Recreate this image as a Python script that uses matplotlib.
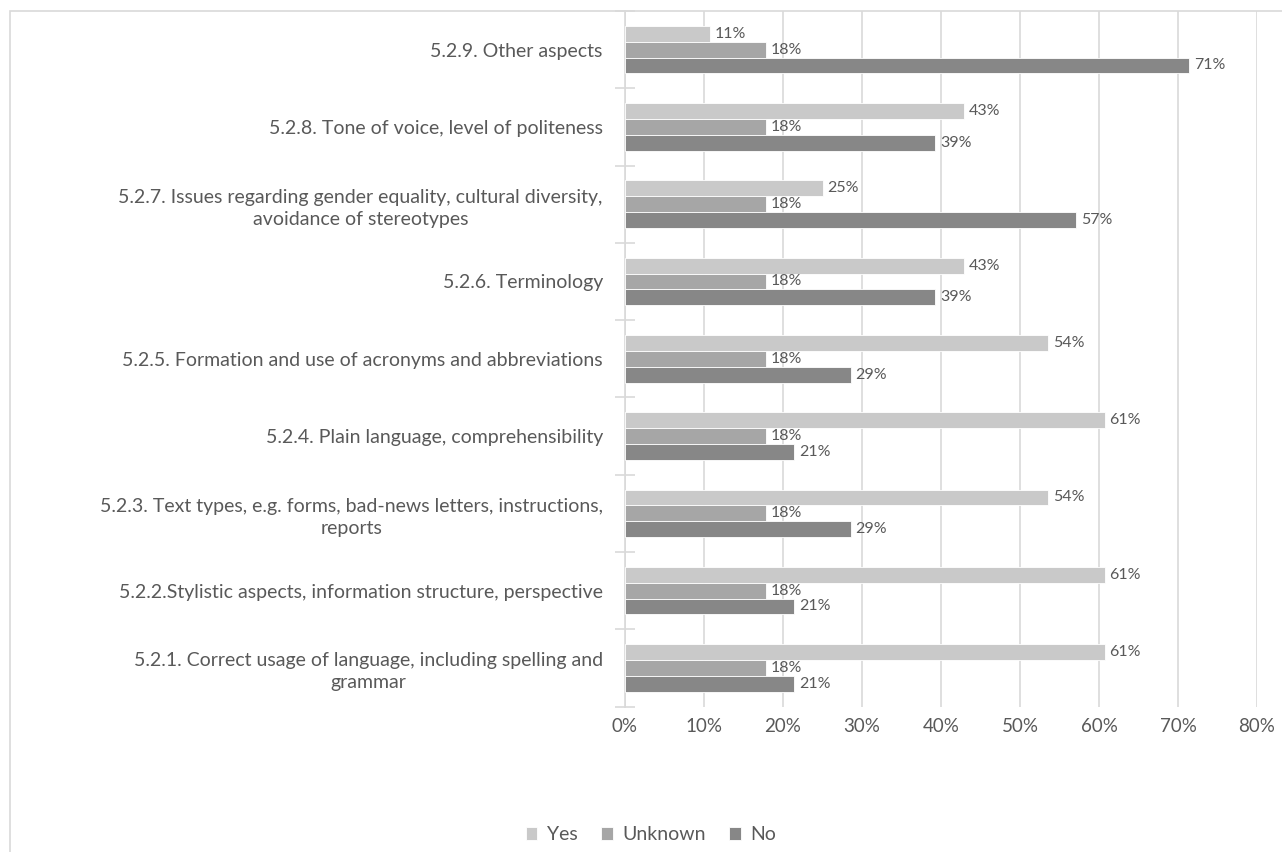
import matplotlib.pyplot as plt
import numpy as np
from matplotlib.patches import Rectangle

# Categories listed bottom to top
categories = [
    '5.2.1. Correct usage of language, including spelling and\ngrammar',
    '5.2.2.Stylistic aspects, information structure, perspective',
    '5.2.3. Text types, e.g. forms, bad-news letters, instructions,\nreports',
    '5.2.4. Plain language, comprehensibility',
    '5.2.5. Formation and use of acronyms and abbreviations',
    '5.2.6. Terminology',
    '5.2.7. Issues regarding gender equality, cultural diversity,\navoidance of stereotypes',
    '5.2.8. Tone of voice, level of politeness',
    '5.2.9. Other aspects',
]
yes_vals = [60.7, 60.7, 53.6, 60.7, 53.6, 42.9, 25.0, 42.9, 10.7]
unknown_vals = [17.9, 17.9, 17.9, 17.9, 17.9, 17.9, 17.9, 17.9, 17.9]
no_vals = [21.4, 21.4, 28.6, 21.4, 28.6, 39.3, 57.1, 39.3, 71.4]
series_names = ['Yes', 'Unknown', 'No']
colors = ['#c9c9c9', '#a6a6a6', '#878787']
text_color = '#595959'
grid_color = '#d9d9d9'

plt.rcParams['font.family'] = ['Lato', 'DejaVu Sans']

fig = plt.figure(figsize=(12.82, 8.52), dpi=100)
ax = fig.add_axes([625 / 1282, 1 - 706.5 / 852, 632 / 1282, 695.5 / 852])

# outer chart border
fig.patches.append(Rectangle((10 / 1282, -0.01), 1.0, 1 - 11 / 852 + 0.01,
                             transform=fig.transFigure, fill=False,
                             edgecolor=grid_color, linewidth=1.2))

y = np.arange(len(categories))
h = 0.205
offsets = [h, 0, -h]
for vals, off, col, name in zip([yes_vals, unknown_vals, no_vals], offsets, colors, series_names):
    bars = ax.barh(y + off, vals, height=h, color=col, label=name, zorder=3,
                   edgecolor='white', linewidth=0.6)
    for b, v in zip(bars, vals):
        ax.text(v + 0.6, b.get_y() + b.get_height() / 2, f'{v:.0f}%',
                va='center', ha='left', fontsize=11.5, color=text_color, zorder=4)

ax.set_xlim(0, 80)
ax.set_ylim(-0.5, len(categories) - 0.5)
ax.set_xticks(np.arange(0, 81, 10))
ax.set_xticklabels([f'{t}%' for t in range(0, 81, 10)], fontsize=13.5, color=text_color)
ax.set_yticks(y)
ax.set_yticklabels(categories, fontsize=14, color=text_color, multialignment='center',
                   linespacing=1.35)
ax.set_yticks(np.arange(-0.5, len(categories), 1), minor=True)
ax.tick_params(axis='y', which='major', length=0, pad=16)
ax.tick_params(axis='y', which='minor', length=15, direction='inout', color=grid_color, width=1.2)
ax.tick_params(axis='x', length=0, pad=8)

ax.grid(axis='x', color=grid_color, linewidth=1.2, zorder=0)
for s in ['top', 'right', 'bottom']:
    ax.spines[s].set_visible(False)
ax.spines['left'].set_color(grid_color)
ax.spines['left'].set_linewidth(1.2)

fig.legend(loc='center', bbox_to_anchor=(651 / 1282, 1 - 835 / 852), ncol=3, frameon=False,
           fontsize=14, labelcolor=text_color, handlelength=0.6, handleheight=0.6,
           handletextpad=0.5, columnspacing=1.2)

fig.savefig('out.png', dpi=100)
